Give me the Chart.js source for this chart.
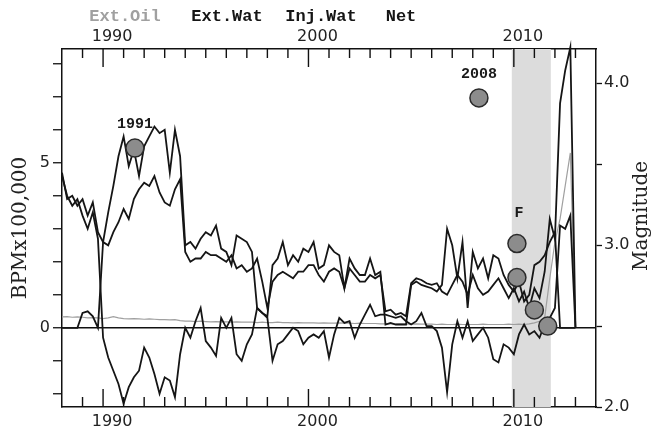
<!DOCTYPE html>
<html>
<head>
<meta charset="utf-8">
<script src="https://cdn.jsdelivr.net/npm/chart.js@4.4.0/dist/chart.umd.min.js"></script>
<style>
  html, body { margin: 0; padding: 0; background: #fff; }
  #wrap { width: 658px; height: 429px; }
</style>
</head>
<body>
<div id="wrap"><canvas id="pumping" width="658" height="429"></canvas></div>
<script>
// quarterly samples 1988.0 .. 2013.0
var years = [];
for (var q = 0; q <= 100; q++) years.push(1988 + q / 4);

// BPM x 100,000 (4 values per year)
var extOil = [
  0.33, 0.34, 0.32, 0.33,  0.32, 0.30, 0.31, 0.30,  0.28, 0.30, 0.34, 0.30,
  0.28, 0.27, 0.28, 0.27,  0.26, 0.27, 0.26, 0.25,  0.25, 0.24, 0.25, 0.22,
  0.20, 0.20, 0.19, 0.20,  0.19, 0.18, 0.19, 0.18,  0.18, 0.17, 0.18, 0.17,
  0.17, 0.17, 0.16, 0.17,  0.16, 0.16, 0.17, 0.16,  0.16, 0.15, 0.16, 0.15,
  0.15, 0.15, 0.14, 0.15,  0.14, 0.14, 0.15, 0.14,  0.14, 0.13, 0.14, 0.13,
  0.13, 0.13, 0.12, 0.12,  0.12, 0.11, 0.12, 0.11,  0.11, 0.12, 0.11, 0.11,
  0.11, 0.10, 0.11, 0.10,  0.10, 0.11, 0.10, 0.10,  0.10, 0.10, 0.11, 0.10,
  0.10, 0.10, 0.10, 0.11,  0.10, 0.11, 0.10, 0.12,  0.15, 0.20, 0.30, 1.50,
  2.60, 3.30, 4.30, 5.30,  0.10
];
var extWat = [
  4.7, 3.9, 4.0, 3.7,  3.9, 3.4, 3.8, 2.9,  2.6, 2.5, 2.9, 3.2,
  3.6, 3.3, 3.9, 4.2,  4.4, 4.3, 4.6, 4.1,  3.8, 3.7, 4.2, 4.5,
  2.3, 2.0, 2.1, 2.1,  2.3, 2.2, 2.2, 2.1,  2.0, 2.2, 1.8, 1.9,
  1.7, 1.8, 2.1, 1.4,  0.6, 1.4, 1.6, 1.7,  1.6, 1.5, 1.7, 1.7,
  1.9, 1.9, 1.6, 1.4,  1.7, 1.8, 1.7, 1.2,  1.8, 1.6, 1.4, 1.4,
  1.6, 1.5, 1.6, 0.5,  0.55, 0.4, 0.45, 0.35,  1.35, 1.5, 1.45, 1.35,
  1.3, 1.35, 1.1, 1.0,  1.3, 1.6, 1.4, 1.0,  1.6, 1.2, 1.0, 1.1,
  1.3, 1.5, 1.2, 0.9,  1.2, 0.8, 1.1, 0.6,  1.2, 0.9, 1.7, 3.3,
  2.7, 6.8, 7.8, 8.5,  0.0
];
var injWat = [
  0, 0, 0, 0,  0.45, 0.5, 0.35, 0,  2.6, 3.5, 4.3, 5.2,
  5.8, 4.9, 5.4, 4.6,  5.5, 5.8, 6.1, 5.9,  6.0, 4.7, 6.0, 5.2,
  2.5, 2.6, 2.4, 2.7,  2.9, 2.8, 3.1, 2.4,  2.3, 1.9, 2.8, 2.7,
  2.6, 2.3, 0.6, 0.45,  0.35, 1.9, 2.1, 2.6,  1.9, 2.2, 2.0, 2.4,
  2.3, 2.6, 1.8, 1.9,  2.5, 2.3, 2.2, 1.2,  2.1, 1.8, 1.6, 1.6,
  2.1, 1.6, 1.7, 0.1,  0.15, 0.1, 0.1, 0.1,  1.3, 1.4, 1.3, 1.25,
  1.2, 1.1, 1.3, 3.0,  2.5, 1.5, 2.6, 0.6,  2.3, 1.8, 2.1, 1.5,
  2.2, 2.1, 1.6, 1.3,  1.1, 1.4, 0.8, 1.0,  1.9, 2.0, 2.2, 2.6,
  2.9, 0, 0, 0,  0
];
var net = [
  4.6, 4.0, 3.7, 3.9,  3.4, 3.0, 3.5, 2.7,  -0.3, -0.9, -1.3, -1.7,
  -2.3, -1.8, -1.5, -1.3,  -0.6, -0.9, -1.4, -2.0,  -1.5, -1.6, -2.1, -0.8,
  0.0, -0.3, 0.2, 0.6,  -0.4, -0.6, -0.85, 0.3,  0.0, 0.3, -0.8, -1.0,
  -0.5, -0.2, 0.6, 0.45,  0.3, -1.0, -0.5, -0.4,  -0.2, 0.0, -0.1, -0.5,
  -0.3, -0.2, -0.3, -0.1,  -0.9, -0.2, 0.3, 0.15,  0.2, -0.3, 0.1, 0.4,
  0.7, 0.35, 0.4, 0.4,  0.35, 0.3, 0.35, 0.2,  0.1, 0.2, 0.45, 0.05,
  0.05, -0.1, -0.6, -1.95,  -0.5, 0.2, -0.3, 0.2,  -0.4, -0.2, 0.0, -0.3,
  -0.95, -1.05, -0.5, -0.6,  -0.8, -0.2, 0.1, -0.2,  -0.1, -0.3, 0.1, 0.3,
  0.6, 3.1, 3.0, 3.4,  0.0
];

// earthquakes (right axis)
var quakeYears = [1991.55, 2008.3, 2010.15, 2010.15, 2011.0, 2011.65];
var quakeMags = [3.6, 3.91, 3.01, 2.8, 2.6, 2.5];
var quakeLabels = ['1991', '2008', 'F', '', '', ''];

var seriesNames = ['Ext.Oil', 'Ext.Wat', 'Inj.Wat', 'Net'];
var seriesColors = ['#a0a0a0', '#151515', '#151515', '#151515'];

var bandStart = 2009.9, bandEnd = 2011.8;
var decadeTicks = [1990, 2000, 2010];
var leftTicks = [-2, -1, 0, 1, 2, 3, 4, 5, 6, 7, 8];
var magTicks = [2.0, 2.5, 3.0, 3.5, 4.0];
var yearMarks = [];
for (var yr = 1989; yr <= 2013; yr++) yearMarks.push(yr);

function pts(vals) {
  return vals.map(function (v, i) { return { x: years[i], y: v }; });
}
var quakePts = quakeYears.map(function (yv, i) { return { x: yv, y: quakeMags[i] }; });

var tickFont = { family: 'DejaVu Sans', size: 16 };

var bandShade = {
  id: 'bandShade',
  beforeDatasetsDraw: function (chart) {
    var c = chart.ctx, a = chart.chartArea, sx = chart.scales.x;
    var x0 = sx.getPixelForValue(bandStart), x1 = sx.getPixelForValue(bandEnd);
    c.save();
    c.fillStyle = '#dcdcdc';
    c.fillRect(x0, a.top, x1 - x0, a.bottom - a.top);
    c.restore();
  }
};

var yearTicks = {
  id: 'yearTicks',
  afterDraw: function (chart) {
    var c = chart.ctx, a = chart.chartArea, sx = chart.scales.x;
    c.save();
    c.strokeStyle = '#111';
    c.lineWidth = 1.4;
    yearMarks.forEach(function (yv) {
      var px = sx.getPixelForValue(yv);
      var big = yv % 10 === 0;
      c.beginPath();
      c.moveTo(px, a.bottom); c.lineTo(px, a.bottom - (big ? 18 : 10));
      c.moveTo(px, a.top); c.lineTo(px, a.top + (big ? 18 : 9));
      c.stroke();
    });
    c.restore();
  }
};

var textBits = {
  id: 'textBits',
  afterDraw: function (chart) {
    var c = chart.ctx, a = chart.chartArea;
    c.save();
    // legend
    c.font = 'bold 17px "Liberation Mono"';
    c.textBaseline = 'middle';
    c.textAlign = 'center';
    var lx = [125, 227, 321, 401];
    seriesNames.forEach(function (n, i) {
      c.fillStyle = seriesColors[i];
      c.fillText(n, lx[i], 17);
    });
    // right axis title
    c.fillStyle = '#222';
    c.font = '20px "DejaVu Serif"';
    c.translate(chart.width - 16, (a.top + a.bottom) / 2 - 12);
    c.rotate(-Math.PI / 2);
    c.fillText('Magnitude', 0, 0);
    c.restore();
  }
};

var quakeTags = {
  id: 'quakeTags',
  afterDatasetsDraw: function (chart) {
    var meta = chart.getDatasetMeta(4);
    var c = chart.ctx;
    c.save();
    c.fillStyle = '#1a1a1a';
    c.font = 'bold 15px "Liberation Mono"';
    c.textAlign = 'center';
    c.textBaseline = 'middle';
    meta.data.forEach(function (el, i) {
      if (quakeLabels[i]) c.fillText(quakeLabels[i], el.x + (quakeLabels[i] === 'F' ? 2 : 0), el.y - (quakeLabels[i] === 'F' ? 30 : 24));
    });
    c.restore();
  }
};

function lineSet(i, vals, order, width) {
  return {
    label: seriesNames[i], data: pts(vals), xAxisID: 'x', yAxisID: 'y',
    borderColor: seriesColors[i], borderWidth: width, pointRadius: 0,
    tension: 0, fill: false, order: order
  };
}

var ctx = document.getElementById("pumping");
var chart = new Chart(ctx, {
  type: 'line',
  data: {
    datasets: [
      lineSet(0, extOil, 4, 1.2),
      Object.assign(lineSet(1, extWat, 3, 1.8), { clip: false }),
      lineSet(2, injWat, 2, 1.8),
      lineSet(3, net, 1, 1.8),
      {
        type: 'scatter', label: 'Quakes', data: quakePts, xAxisID: 'x', yAxisID: 'y2',
        pointRadius: 9, pointBackgroundColor: '#8c8c8c', pointBorderColor: '#2a2a2a',
        pointBorderWidth: 1.5, showLine: false, order: 0
      }
    ]
  },
  options: {
    responsive: false,
    devicePixelRatio: 1,
    animation: false,
    layout: { padding: 0 },
    plugins: { legend: { display: false }, tooltip: { enabled: false } },
    scales: {
      x: {
        type: 'linear', position: 'bottom', min: 1988, max: 2014,
        afterBuildTicks: function (s) { s.ticks = decadeTicks.map(function (v) { return { value: v }; }); },
        afterFit: function (s) { s.height = 22; },
        grid: { display: false, drawTicks: false },
        border: { display: true, color: '#111', width: 1.5 },
        ticks: { font: tickFont, color: '#222', padding: 5, labelOffset: 9, maxRotation: 0, autoSkip: false,
          callback: function (v) { return String(v); } }
      },
      x2: {
        type: 'linear', position: 'top', min: 1988, max: 2014,
        afterBuildTicks: function (s) { s.ticks = decadeTicks.map(function (v) { return { value: v }; }); },
        afterFit: function (s) { s.height = 49; },
        grid: { display: false, drawTicks: false },
        border: { display: true, color: '#111', width: 1.5 },
        ticks: { font: tickFont, color: '#222', padding: 3, labelOffset: 9, maxRotation: 0, autoSkip: false,
          callback: function (v) { return String(v); } }
      },
      y: {
        type: 'linear', position: 'left', min: -2.4, max: 8.45,
        afterBuildTicks: function (s) { s.ticks = leftTicks.map(function (v) { return { value: v }; }); },
        afterFit: function (s) { s.width = 62; },
        grid: {
          color: function (c) { return c.tick && c.tick.value === 0 ? '#111' : 'rgba(0,0,0,0)'; },
          lineWidth: 1.5, tickColor: '#111', tickLength: 9, tickWidth: 1.3
        },
        border: { display: true, color: '#111', width: 1.5 },
        ticks: { font: tickFont, color: '#222', padding: 3,
          callback: function (v) { return (v === 0 || v === 5) ? String(v) : ''; } },
        title: { display: true, text: 'BPMx100,000', color: '#222',
          font: { family: 'DejaVu Serif', size: 20 }, padding: { top: 9, bottom: 0 } }
      },
      y2: {
        type: 'linear', position: 'right', min: 2.0, max: 4.212,
        afterBuildTicks: function (s) { s.ticks = magTicks.map(function (v) { return { value: v }; }); },
        afterFit: function (s) { s.width = 62; },
        grid: { drawOnChartArea: false, color: '#111', tickLength: 6, tickWidth: 1.3 },
        border: { display: true, color: '#111', width: 1.5 },
        ticks: { font: tickFont, color: '#222', padding: 2,
          callback: function (v) { return Number.isInteger(v) ? v.toFixed(1) : ''; } }
      }
    }
  },
  plugins: [bandShade, yearTicks, textBits, quakeTags]
});
</script>
</body>
</html>
